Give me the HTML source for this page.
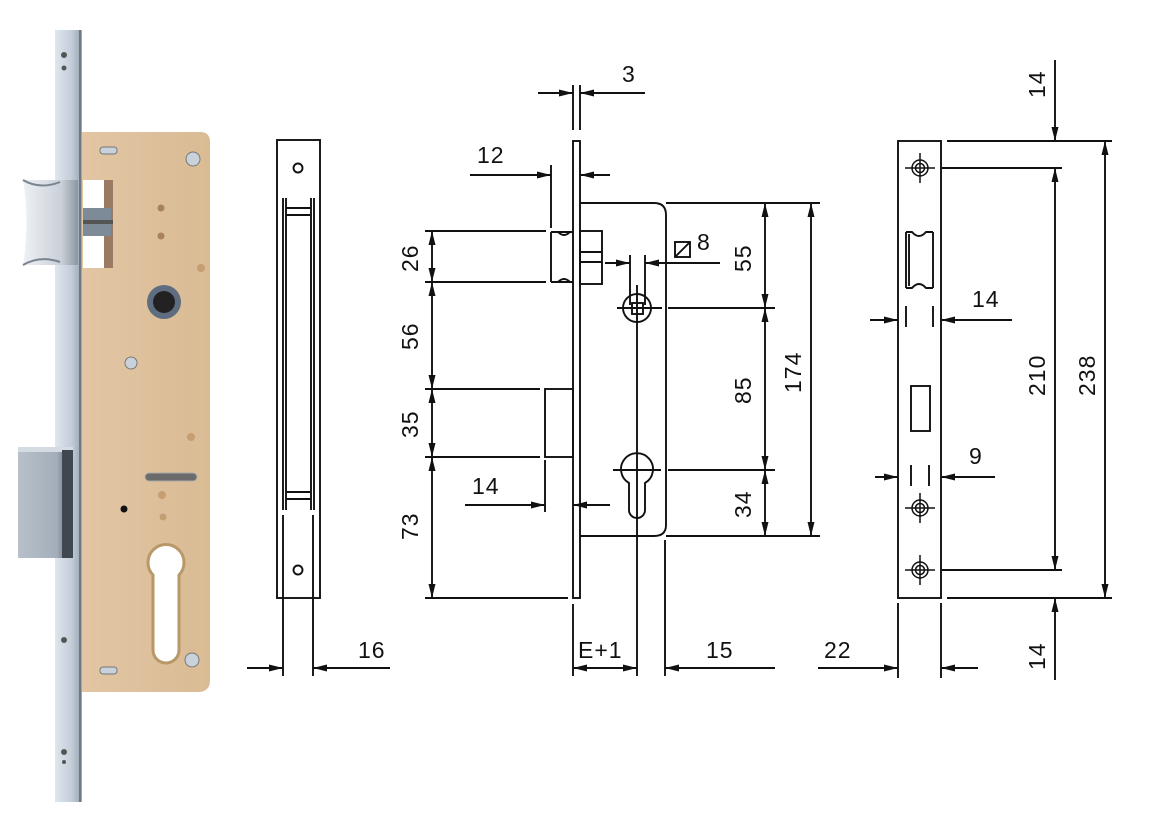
<!DOCTYPE html>
<html><head><meta charset="utf-8"><style>
html,body{margin:0;padding:0;background:#fff;}
svg{display:block;}
text{font-family:"Liberation Sans",sans-serif;font-size:23px;letter-spacing:1px;fill:#111;}
</style></head><body>
<svg width="1150" height="823" viewBox="0 0 1150 823" xmlns="http://www.w3.org/2000/svg">
<defs>
<marker id="a" viewBox="0 0 14 7" refX="14" refY="3.5" markerWidth="14" markerHeight="7" orient="auto-start-reverse" markerUnits="userSpaceOnUse"><path d="M0,0 L14,3.5 L0,7z" fill="#111"/></marker>
<linearGradient id="fp" x1="0" x2="1"><stop offset="0" stop-color="#dfe6ee"/><stop offset="0.6" stop-color="#c4ceda"/><stop offset="1" stop-color="#9aa6b4"/></linearGradient>
<linearGradient id="bd" x1="0" x2="1"><stop offset="0" stop-color="#e2c6a4"/><stop offset="1" stop-color="#d9bb94"/></linearGradient>
<linearGradient id="lt" x1="0" x2="1"><stop offset="0" stop-color="#eef1f5"/><stop offset="0.7" stop-color="#c9d0d8"/><stop offset="1" stop-color="#8c96a2"/></linearGradient>
<linearGradient id="db" x1="0" x2="1"><stop offset="0" stop-color="#b8c0ca"/><stop offset="0.7" stop-color="#a4aeba"/><stop offset="1" stop-color="#55606a"/></linearGradient>
</defs>

<!-- PHOTO -->
<path d="M82,132 H200 Q210,132 210,142 V680 Q210,692 198,692 H82z" fill="url(#bd)"/>
<rect x="83" y="180" width="30" height="88" fill="#fff"/>
<rect x="104" y="180" width="9" height="88" fill="#9a7a62"/>
<rect x="83" y="208" width="28" height="28" fill="#7d8a98"/>
<rect x="83" y="220" width="30" height="4" fill="#555"/>
<rect x="55" y="30" width="27" height="772" fill="url(#fp)"/>
<line x1="80" y1="30" x2="80" y2="802" stroke="#6e7884" stroke-width="2"/>
<circle cx="64" cy="55" r="3" fill="#555"/><circle cx="64" cy="68" r="2.5" fill="#555"/>
<circle cx="64" cy="640" r="3" fill="#555"/><circle cx="64" cy="752" r="3" fill="#555"/><circle cx="64" cy="762" r="2" fill="#555"/>
<path d="M23,180 H78 V265 H23 Q30,222 23,180z" fill="url(#lt)"/>
<path d="M23,180 Q40,190 60,182" stroke="#7a8490" fill="none" stroke-width="2"/>
<path d="M23,265 Q40,255 60,262" stroke="#7a8490" fill="none" stroke-width="2"/>
<rect x="18" y="447" width="55" height="111" fill="url(#db)"/>
<rect x="18" y="447" width="55" height="5" fill="#d5dbe2"/>
<rect x="62" y="450" width="11" height="108" fill="#3f4750"/>
<rect x="100" y="147" width="17" height="7" rx="3" fill="#c9d1da" stroke="#777" stroke-width="1"/>
<rect x="100" y="667" width="17" height="7" rx="3" fill="#c9d1da" stroke="#777" stroke-width="1"/>
<circle cx="193" cy="159" r="7" fill="#c9d1da" stroke="#777"/>
<circle cx="192" cy="660" r="7" fill="#c9d1da" stroke="#777"/>
<circle cx="131" cy="363" r="6" fill="#c9d1da" stroke="#777"/>
<circle cx="161" cy="208" r="3.5" fill="#a8825a"/><circle cx="161" cy="236" r="3.5" fill="#a8825a"/>
<circle cx="201" cy="268" r="4" fill="#c59e72"/><circle cx="191" cy="437" r="4" fill="#c59e72"/>
<circle cx="162" cy="495" r="4" fill="#c59e72"/><circle cx="163" cy="517" r="3.5" fill="#c59e72"/>
<circle cx="124" cy="509" r="3.5" fill="#111"/>
<rect x="145" y="473" width="52" height="8" rx="4" fill="#6b6b6b" stroke="#aaa"/>
<circle cx="164" cy="302" r="17" fill="#5e6e80"/><circle cx="164" cy="302" r="11" fill="#222"/>
<path d="M153,575 a18,18 0 1 1 26,0 V650 a13,13 0 0 1 -26,0z" fill="#fff" stroke="#b89868" stroke-width="3"/>

<g stroke="#111" stroke-width="1.9" fill="none">
<rect x="277" y="140" width="43" height="458"/>
<circle cx="298" cy="168" r="4.5"/><circle cx="298" cy="570" r="4.5"/>
<line x1="283" y1="198" x2="283" y2="510"/><line x1="286" y1="198" x2="286" y2="510"/>
<line x1="311" y1="198" x2="311" y2="510"/><line x1="314" y1="198" x2="314" y2="510"/>
<line x1="286" y1="208" x2="311" y2="208"/><line x1="286" y1="215" x2="311" y2="215"/>
<line x1="286" y1="492" x2="311" y2="492"/><line x1="286" y1="499" x2="311" y2="499"/>
<line x1="283" y1="515" x2="283" y2="676"/><line x1="313" y1="515" x2="313" y2="676"/>
<line x1="247" y1="668" x2="283" y2="668" marker-end="url(#a)"/>
<line x1="390" y1="668" x2="313" y2="668" marker-end="url(#a)"/>

<line x1="573" y1="85" x2="573" y2="130"/><line x1="580" y1="85" x2="580" y2="130"/>
<line x1="538" y1="93" x2="573" y2="93" marker-end="url(#a)"/>
<line x1="645" y1="93" x2="580" y2="93" marker-end="url(#a)"/>
<rect x="573" y="141" width="7" height="457"/>
<path d="M580,203 H654 Q666,203 666,215 V525 Q666,536 654,536 H580"/>
<line x1="666" y1="203" x2="820" y2="203"/><line x1="666" y1="536" x2="820" y2="536"/>
<line x1="551" y1="165" x2="551" y2="228"/>
<line x1="470" y1="175" x2="551" y2="175" marker-end="url(#a)"/>
<line x1="610" y1="175" x2="580" y2="175" marker-end="url(#a)"/>
<path d="M551,232 H573 M551,282 H573 M551,232 V282"/>
<path d="M558,232 Q564,238 570,232 M558,282 Q564,276 570,282"/>
<rect x="580" y="231" width="22" height="53"/>
<line x1="580" y1="252" x2="602" y2="252"/><line x1="580" y1="262" x2="602" y2="262"/>
<rect x="545" y="389" width="28" height="68"/>
<line x1="545" y1="460" x2="545" y2="512"/>
<line x1="465" y1="505" x2="545" y2="505" marker-end="url(#a)"/>
<line x1="610" y1="505" x2="573" y2="505" marker-end="url(#a)"/>
<line x1="425" y1="231" x2="546" y2="231"/><line x1="425" y1="282" x2="546" y2="282"/>
<line x1="425" y1="389" x2="540" y2="389"/><line x1="425" y1="457" x2="540" y2="457"/>
<line x1="425" y1="598" x2="568" y2="598"/>
<line x1="432" y1="231" x2="432" y2="282" marker-start="url(#a)" marker-end="url(#a)"/>
<line x1="432" y1="282" x2="432" y2="389" marker-start="url(#a)" marker-end="url(#a)"/>
<line x1="432" y1="389" x2="432" y2="457" marker-start="url(#a)" marker-end="url(#a)"/>
<line x1="432" y1="457" x2="432" y2="598" marker-start="url(#a)" marker-end="url(#a)"/>
<line x1="630" y1="255" x2="630" y2="305"/><line x1="645" y1="255" x2="645" y2="305"/>
<line x1="605" y1="263" x2="630" y2="263" marker-end="url(#a)"/>
<line x1="720" y1="263" x2="645" y2="263" marker-end="url(#a)"/>
<rect x="675" y="242" width="15" height="15"/><line x1="675" y1="257" x2="690" y2="242"/>
<circle cx="637" cy="308" r="14"/><rect x="632" y="303" width="11" height="11"/>
<line x1="617" y1="308" x2="662" y2="308"/>
<line x1="637" y1="285" x2="637" y2="676"/>
<path d="M629,483 a16,16 0 1 1 16,0 V510 a8,8 0 0 1 -16,0z"/>
<line x1="613" y1="470" x2="661" y2="470"/>
<line x1="668" y1="308" x2="775" y2="308"/><line x1="668" y1="470" x2="775" y2="470"/>
<line x1="765" y1="203" x2="765" y2="308" marker-start="url(#a)" marker-end="url(#a)"/>
<line x1="765" y1="308" x2="765" y2="470" marker-start="url(#a)" marker-end="url(#a)"/>
<line x1="765" y1="470" x2="765" y2="536" marker-start="url(#a)" marker-end="url(#a)"/>
<line x1="811" y1="203" x2="811" y2="536" marker-start="url(#a)" marker-end="url(#a)"/>
<line x1="573" y1="604" x2="573" y2="676"/><line x1="665" y1="540" x2="665" y2="676"/>
<line x1="573" y1="668" x2="637" y2="668" marker-start="url(#a)" marker-end="url(#a)"/>
<line x1="775" y1="668" x2="665" y2="668" marker-end="url(#a)"/>

<rect x="898" y="141" width="43" height="457"/>
<path d="M906,232 V288 M933,232 V288 M906,232 H912 Q919,240 926,232 H933 M906,288 H912 Q919,280 926,288 H933"/>
<line x1="909" y1="234" x2="909" y2="286"/>
<rect x="911" y="386" width="19" height="45"/>
<line x1="906" y1="306" x2="906" y2="327"/><line x1="933" y1="306" x2="933" y2="327"/>
<line x1="870" y1="320" x2="898" y2="320" marker-end="url(#a)"/>
<line x1="1012" y1="320" x2="941" y2="320" marker-end="url(#a)"/>
<line x1="911" y1="465" x2="911" y2="486"/><line x1="929" y1="465" x2="929" y2="486"/>
<line x1="875" y1="477" x2="898" y2="477" marker-end="url(#a)"/>
<line x1="995" y1="477" x2="941" y2="477" marker-end="url(#a)"/>
<line x1="898" y1="603" x2="898" y2="678"/><line x1="941" y1="603" x2="941" y2="678"/>
<line x1="818" y1="668" x2="898" y2="668" marker-end="url(#a)"/>
<line x1="978" y1="668" x2="941" y2="668" marker-end="url(#a)"/>
<line x1="947" y1="141" x2="1112" y2="141"/><line x1="947" y1="598" x2="1112" y2="598"/>
<line x1="942" y1="168" x2="1062" y2="168"/><line x1="942" y1="570" x2="1062" y2="570"/>
<line x1="1055" y1="60" x2="1055" y2="141" marker-end="url(#a)"/>
<line x1="1055" y1="168" x2="1055" y2="570" marker-start="url(#a)" marker-end="url(#a)"/>
<line x1="1055" y1="680" x2="1055" y2="598" marker-end="url(#a)"/>
<line x1="1105" y1="141" x2="1105" y2="598" marker-start="url(#a)" marker-end="url(#a)"/>
</g>
<g stroke="#111" stroke-width="1.5" fill="none">
<circle cx="920" cy="168" r="8"/><circle cx="920" cy="168" r="4.5"/><path d="M905,168H935M920,153V183"/>
<circle cx="920" cy="508" r="8"/><circle cx="920" cy="508" r="4.5"/><path d="M905,508H935M920,493V523"/>
<circle cx="920" cy="570" r="8"/><circle cx="920" cy="570" r="4.5"/><path d="M905,570H935M920,555V585"/>
</g>

<text x="358" y="658">16</text>
<text x="622" y="82">3</text>
<text x="477" y="163">12</text>
<text x="472" y="494">14</text>
<text x="697" y="250">8</text>
<text x="578" y="658">E+1</text>
<text x="706" y="658">15</text>
<text x="824" y="658">22</text>
<text x="972" y="307">14</text>
<text x="969" y="464">9</text>
<g transform="rotate(-90)">
<text x="-272" y="418">26</text>
<text x="-350" y="418">56</text>
<text x="-438" y="418">35</text>
<text x="-540" y="418">73</text>
<text x="-272" y="751">55</text>
<text x="-404" y="751">85</text>
<text x="-518" y="751">34</text>
<text x="-393" y="801">174</text>
<text x="-98" y="1045">14</text>
<text x="-396" y="1045">210</text>
<text x="-670" y="1045">14</text>
<text x="-396" y="1095">238</text>
</g>
</svg>
</body></html>
